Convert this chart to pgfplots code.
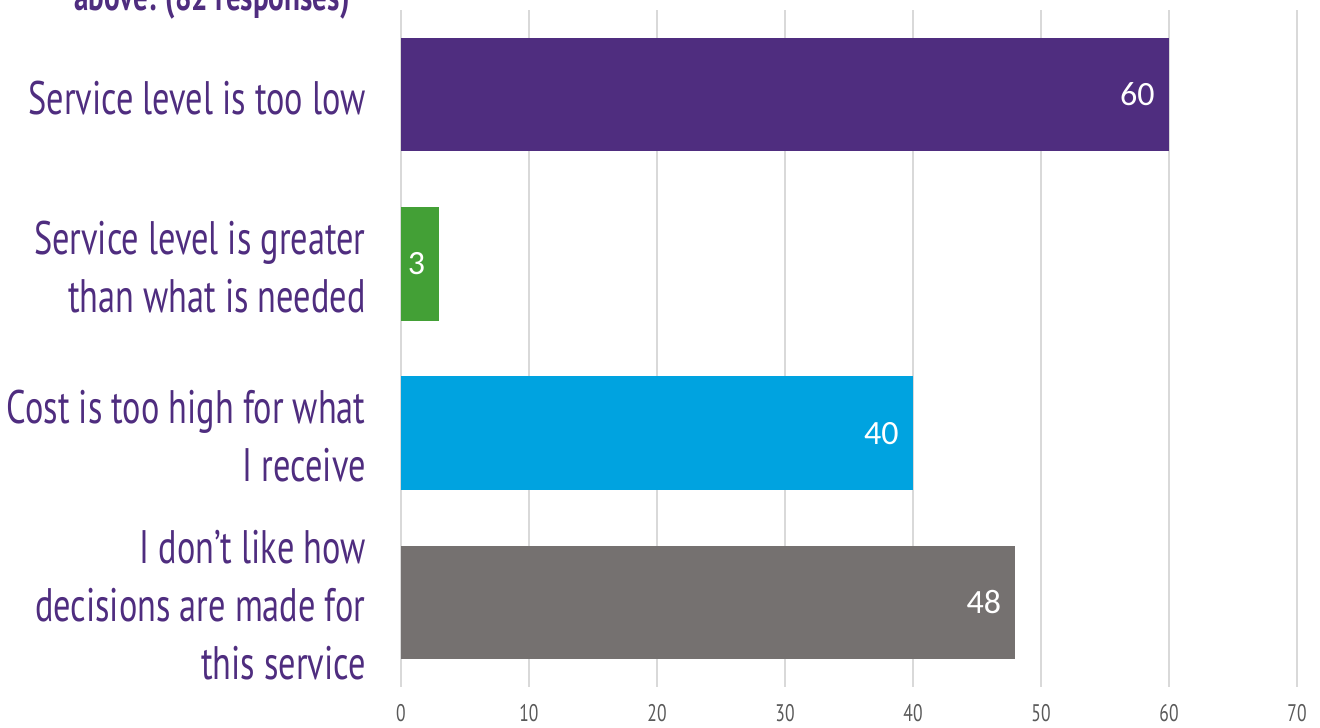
\documentclass[border=0pt]{standalone}
\usepackage{pgfplots}
\pgfplotsset{compat=1.18}
\usepackage{fontspec}
\setmainfont{PT Sans}[FakeStretch=0.73]
\newfontfamily\valfont{Carlito}
\usetikzlibrary{calc}

\definecolor{cpurple}{HTML}{4F2D7F}
\definecolor{cgreen}{HTML}{43A036}
\definecolor{cblue}{HTML}{00A3E0}
\definecolor{cgray}{HTML}{757170}
\definecolor{ctick}{HTML}{595959}
\definecolor{cgrid}{HTML}{D9D9D9}

\begin{document}
\begin{tikzpicture}
\begin{axis}[
    name=ax,
    xbar,
    bar shift=0pt,
    bar width=0.67,
    scale only axis,
    width=448pt, height=338.5pt,
    xmin=0, xmax=70,
    ymin=-0.5, ymax=3.5,
    y dir=reverse,
    xtick={0,10,...,70},
    ytick={0,1,2,3},
    yticklabels={
        {Service level is too low},
        {Service level is greater\\than what is needed},
        {Cost is too high for what\\I receive},
        {I don’t like how\\decisions are made for\\this service}},
    /pgf/number format/assume math mode=true,
    axis line style={draw=none},
    major tick length=0pt,
    xmajorgrids,
    grid style={cgrid, line width=0.9pt},
    xticklabel style={font=\fontsize{12pt}{14pt}\selectfont, text=ctick,
        anchor=base, inner sep=0pt, yshift=-17pt},
    yticklabel style={font=\fontsize{23.5pt}{29pt}\selectfont, text=cpurple,
        align=right, inner sep=0pt, xshift=-17.5pt, yshift=-1.5pt},
    nodes near coords,
    nodes near coords align={anchor=east},
    every node near coord/.append style={font=\valfont\fontsize{17pt}{20pt}\selectfont,
        text=white, inner sep=0pt, xshift=-7pt},
]
\addplot[fill=cpurple, draw=none] coordinates {(60,0)};
\addplot[fill=cgreen, draw=none] coordinates {(3,1)};
\addplot[fill=cblue, draw=none] coordinates {(40,2)};
\addplot[fill=cgray, draw=none] coordinates {(48,3)};
\end{axis}
\node[anchor=base east, inner sep=0pt, text=cpurple,
      font=\bfseries\fontsize{20pt}{24pt}\selectfont]
      at ($(ax.north west)+(-25.5pt,-0.3pt)$) {above: (82 responses)};
\pgfresetboundingbox
\path[use as bounding box] ($(ax.south west)+(-200.5pt,-20pt)$) rectangle ($(ax.north east)+(11.5pt,5pt)$);
\end{tikzpicture}
\end{document}
